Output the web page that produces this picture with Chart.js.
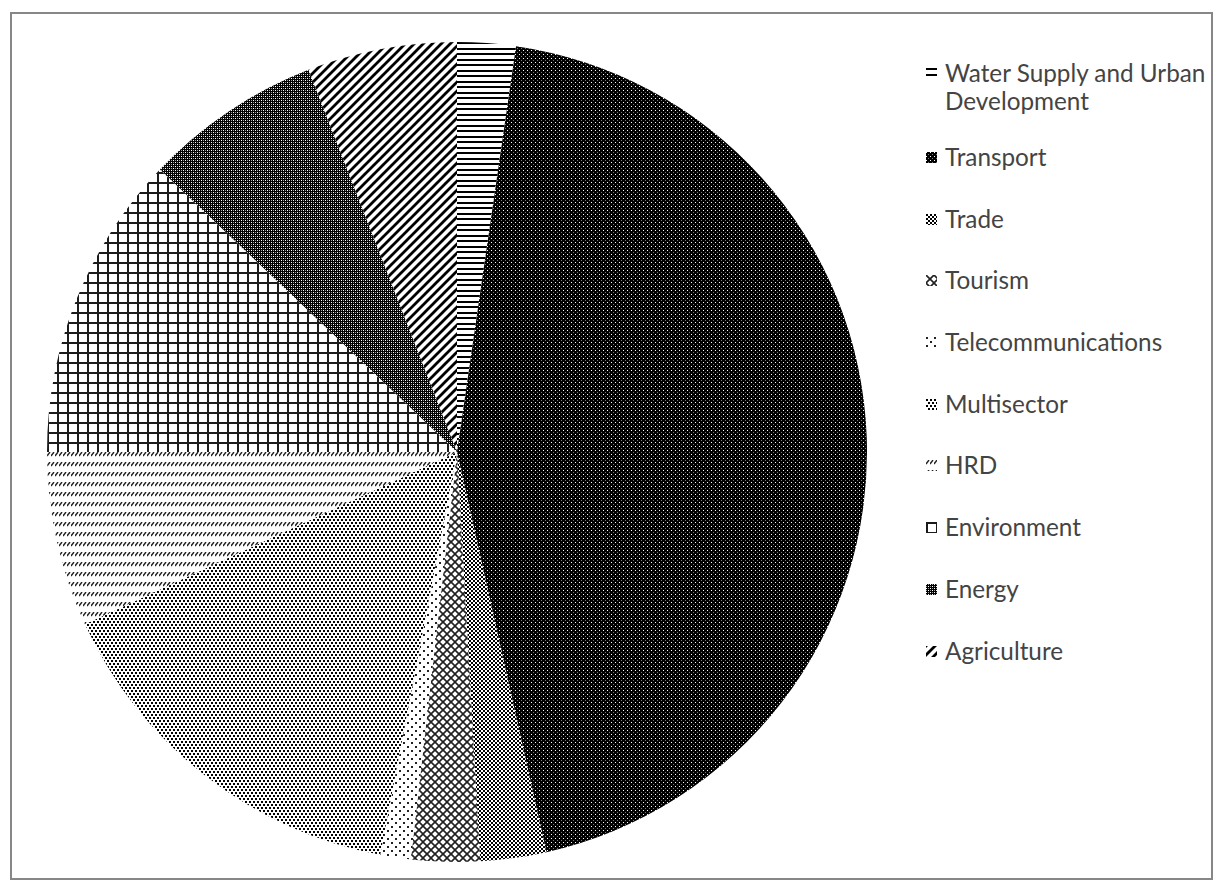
<!DOCTYPE html>
<html>
<head>
<meta charset="utf-8">
<title>Sector shares</title>
<script src="https://cdn.jsdelivr.net/npm/chart.js@4.4.1/dist/chart.umd.min.js"></script>
<style>
  html, body { margin: 0; padding: 0; background: #fff; }
  body { width: 1221px; height: 888px; position: relative; overflow: hidden; }
  #frame {
    position: absolute; left: 10px; top: 12px;
    width: 1199px; height: 864px;
    border: 2px solid #878787;
  }
  #pieBox { position: absolute; left: 47px; top: 42px; width: 820px; height: 820px; }
  #legend {
    position: absolute; left: 926px; top: 59px; width: 284px;
    font-family: Lato, "Open Sans", sans-serif; font-size: 24.3px;
    line-height: 28px; color: #444;
  }
  .item { display: flex; align-items: flex-start; margin-bottom: 33.7px; }
  .item:first-child { margin-bottom: 28px; }
  .swatch {
    flex: 0 0 11px; width: 11px; height: 11px; margin: 9px 8px 0 0;
  }
</style>
</head>
<body>
<div id="frame"></div>
<div id="pieBox"><canvas id="pieChart" width="820" height="820"></canvas></div>
<div id="legend"></div>

<script>
'use strict';

const sectors = [
  'Water Supply and Urban Development',
  'Transport',
  'Trade',
  'Tourism',
  'Telecommunications',
  'Multisector',
  'HRD',
  'Environment',
  'Energy',
  'Agriculture',
];
const shares = [2.3, 44.2, 2.6, 2.7, 1.2, 15.1, 6.9, 12.1, 7.0, 5.9];

// --- fill patterns, one small tile per sector ---
function makeTile(w, h, draw, bg) {
  const c = document.createElement('canvas');
  c.width = w; c.height = h;
  const g = c.getContext('2d');
  g.fillStyle = bg || '#fff';
  g.fillRect(0, 0, w, h);
  g.fillStyle = '#000';
  g.strokeStyle = '#000';
  draw(g, w, h);
  return c;
}

function diag(g, size, width, up) {
  g.lineWidth = width;
  g.beginPath();
  for (let k = -1; k <= 1; k++) {
    const o = k * size;
    if (up) { g.moveTo(o - 1, size + 1); g.lineTo(o + size + 1, -1); }
    else    { g.moveTo(o - 1, -1); g.lineTo(o + size + 1, size + 1); }
  }
  g.stroke();
}

const tiles = [
  // horizontal lines
  makeTile(11, 11, (g) => { g.fillRect(0, 0, 11, 2); g.fillRect(0, 6, 11, 2); }),
  // near-black with light specks
  makeTile(4, 4, (g) => {
    g.fillStyle = '#fff'; g.fillRect(0, 0, 1, 1);
    g.fillStyle = '#777'; g.fillRect(2, 2, 1, 1);
  }, '#000'),
  // dense checker dots
  makeTile(4, 4, (g) => { g.fillRect(0, 0, 2, 2); g.fillRect(2, 2, 2, 2); }),
  // diamond crosshatch
  makeTile(8, 8, (g) => { g.strokeStyle = '#222'; diag(g, 8, 1.6, true); diag(g, 8, 1.6, false); }),
  // sparse dots
  makeTile(8, 8, (g) => { g.fillStyle = '#222'; g.fillRect(0, 0, 2, 2); g.fillRect(4, 4, 2, 2); }),
  // medium staggered dots
  makeTile(8, 6, (g) => {
    g.fillRect(0, 0, 2, 2); g.fillRect(4, 0, 2, 2);
    g.fillRect(2, 3, 2, 2); g.fillRect(6, 3, 2, 2);
  }),
  // rows of short slashes
  makeTile(4, 10, (g) => {
    g.lineWidth = 1.4; g.strokeStyle = '#222';
    g.beginPath(); g.moveTo(0, 4); g.lineTo(3, 0); g.stroke();
  }),
  // square grid
  makeTile(10, 10, (g) => { g.fillStyle = '#1a1a1a'; g.fillRect(0, 0, 10, 2); g.fillRect(0, 0, 2, 10); }),
  // dark checker
  makeTile(4, 4, (g) => {
    g.fillStyle = '#fff'; g.fillRect(0, 0, 1, 1); g.fillRect(2, 2, 1, 1);
    g.fillStyle = '#999'; g.fillRect(2, 0, 1, 1); g.fillRect(0, 2, 1, 1);
  }, '#000'),
  // wide diagonal stripes
  makeTile(9, 9, (g) => diag(g, 9, 2.8, true)),
];

const ctx = document.getElementById('pieChart').getContext('2d');
const patterns = tiles.map((t) => ctx.createPattern(t, 'repeat'));

new Chart(ctx, {
  type: 'pie',
  data: {
    labels: sectors,
    datasets: [{
      data: shares,
      backgroundColor: patterns,
      borderWidth: 0,
    }],
  },
  options: {
    responsive: false,
    animation: false,
    events: [],
    layout: { padding: 0 },
    plugins: {
      legend: { display: false },
      tooltip: { enabled: false },
    },
  },
});

// legend on the right, swatches use the same tiles
const legend = document.getElementById('legend');
sectors.forEach((name, i) => {
  const row = document.createElement('div');
  row.className = 'item';
  const sw = document.createElement('span');
  sw.className = 'swatch';
  sw.style.backgroundImage = `url(${tiles[i].toDataURL()})`;
  const txt = document.createElement('span');
  txt.textContent = name;
  row.appendChild(sw);
  row.appendChild(txt);
  legend.appendChild(row);
});
</script>
</body>
</html>
